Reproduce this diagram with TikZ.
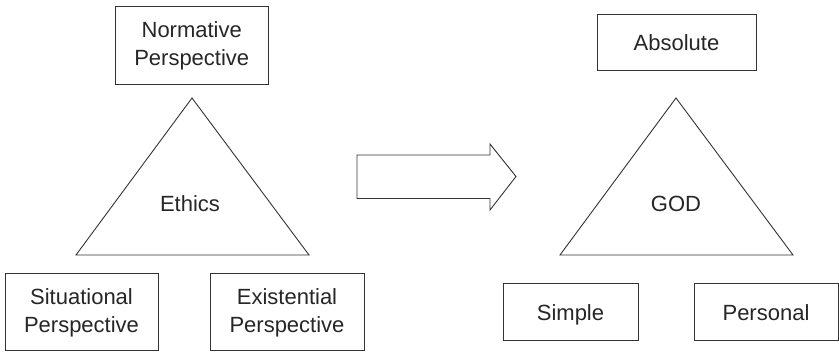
\documentclass[tikz,border=0pt]{standalone}
\usepackage{fontspec}
\setmainfont{Liberation Sans}
\begin{document}
\begin{tikzpicture}[x=1pt,y=-1pt,
  every node/.style={font=\fontsize{22}{28}\selectfont, text=black!85},
  box/.style={draw=black!80, line width=1pt, align=center, inner sep=0pt},
  shapeline/.style={draw=black!80, line width=0.9pt, line join=miter}]
\useasboundingbox (0,0) rectangle (839,352);
% left group
\node[box, minimum width=152.5pt, minimum height=78pt] (norm) at (191.75,45.5) {Normative\\Perspective};
\coordinate (lt) at (192,98);
\coordinate (ll) at (76,255);
\coordinate (lr) at (309,255);
\draw[shapeline] (lt) -- (ll) -- (lr) -- cycle;
\node (ethics) at (190,204) {Ethics};
\node[box, minimum width=153pt, minimum height=77pt] (sit) at (81.5,312.5) {Situational\\Perspective};
\node[box, minimum width=154pt, minimum height=77pt] (exi) at (287,312.5) {Existential\\Perspective};
% arrow
\coordinate (a1) at (357,155);
\coordinate (a2) at (490,155);
\coordinate (a3) at (490,144);
\coordinate (a4) at (516,176.5);
\coordinate (a5) at (490,210);
\coordinate (a6) at (490,198.5);
\coordinate (a7) at (357,198.5);
\draw[shapeline] (a1) -- (a2) -- (a3) -- (a4) -- (a5) -- (a6) -- (a7) -- cycle;
% right group
\node[box, minimum width=159pt, minimum height=56.5pt] (abs) at (676.5,42.75) {Absolute};
\coordinate (rt) at (676,98);
\coordinate (rl) at (560,255);
\coordinate (rr) at (793,255);
\draw[shapeline] (rt) -- (rl) -- (rr) -- cycle;
\node (god) at (676,204) {GOD};
\node[box, minimum width=135pt, minimum height=57pt] (simple) at (570.5,312.5) {};
\node[anchor=base] (simpletxt) at (570.5,321) {Simple};
\node[box, minimum width=144pt, minimum height=57pt] (pers) at (766,312.5) {};
\node[anchor=base] (perstxt) at (766,321) {Personal};
\end{tikzpicture}
\end{document}
